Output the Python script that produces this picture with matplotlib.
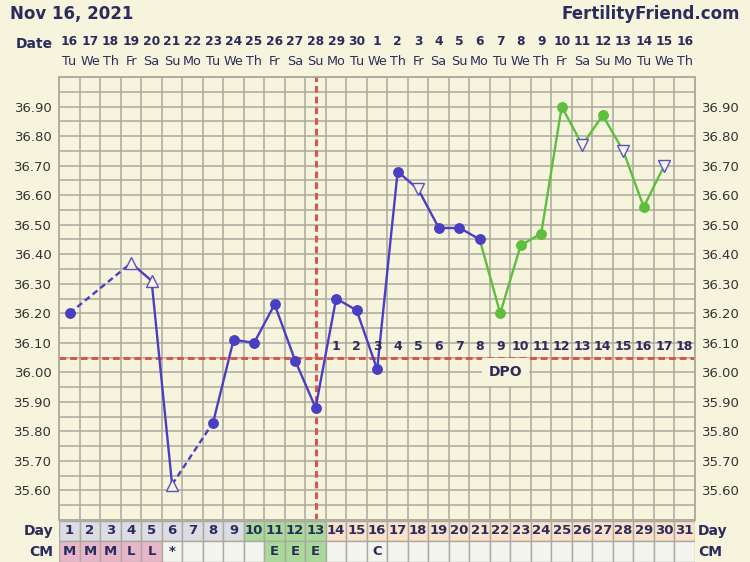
import matplotlib.pyplot as plt
import numpy as np

# chart data
cycle_days = list(range(1, 32))
dates = list(range(16, 31)) + list(range(1, 17))
weekdays = ['Tu', 'We', 'Th', 'Fr', 'Sa', 'Su', 'Mo'] * 4 + ['Tu', 'We', 'Th']

temp_days = [1, 4, 5, 6, 8, 9, 10, 11, 12, 13, 14, 15, 16, 17, 18, 19, 20,
             21, 22, 23, 24, 25, 26, 27, 28, 29, 30]
temps = [36.20, 36.37, 36.31, 35.62, 35.83, 36.11, 36.10, 36.23, 36.04, 35.88,
         36.25, 36.21, 36.01, 36.68, 36.62, 36.49, 36.49, 36.45, 36.20, 36.43,
         36.47, 36.90, 36.77, 36.87, 36.75, 36.56, 36.70]
# o = normal reading, ^ / v = discarded reading (open triangle)
temp_kind = ['o', '^', '^', '^', 'o', 'o', 'o', 'o', 'o', 'o', 'o', 'o', 'o',
             'o', 'v', 'o', 'o', 'o', 'o', 'o', 'o', 'o', 'v', 'o', 'v', 'o', 'v']

coverline = 36.05
ovulation_day = 13
green_from = 21
dpo = list(range(1, 19))

phase = ['pre'] * 9 + ['fertile'] * 4 + ['post'] * 18
cm = ['M', 'M', 'M', 'L', 'L', '*', '', '', '', '', 'E', 'E', 'E', '', '', 'C'] + [''] * 15

# colours
BG = '#f7f4dd'
GRID = '#aca99d'
NAVY = '#2b2c5c'
BLUE = '#4a3fc3'
GREEN = '#5dbf3d'
RED = '#d45a4e'
TRI = '#5a50c6'
phase_col = {'pre': '#dcdce4', 'fertile': '#a9d99b', 'post': '#fbe2cc'}
cm_col = {'M': '#e8b6c9', 'L': '#e8b6c9', 'E': '#a9d99b'}

W_PX, H_PX = 750, 562
left, right, top, bottom = 59.3, 695, 77, 520

fig = plt.figure(figsize=(7.5, 5.62), dpi=100, facecolor=BG)
ax = fig.add_axes([left / W_PX, (H_PX - bottom) / H_PX,
                   (right - left) / W_PX, (bottom - top) / H_PX], facecolor=BG)

ax.set_xlim(0.5, 31.5)
ax.set_ylim(35.5, 37.0)
ax.set_xticks(np.arange(0.5, 32, 1))
ax.set_yticks(np.arange(35.6, 36.95, 0.1))
ax.set_yticklabels([f'{v:.2f}' for v in np.arange(35.6, 36.95, 0.1)])
ax.set_yticks(np.arange(35.5, 37.01, 0.05), minor=True)
ax.grid(True, which='both', color=GRID, lw=1.1, zorder=1)
ax.set_axisbelow(True)
ax.tick_params(axis='x', length=0, labelbottom=False)
ax.tick_params(axis='y', which='both', length=0, labelleft=True, labelright=True,
               labelsize=9.5, labelcolor='#333333', pad=5)
for s in ax.spines.values():
    s.set_color(GRID)
    s.set_linewidth(1.3)

# coverline and ovulation line
ax.axhline(coverline, color=RED, lw=2.2, dashes=(2.2, 1.3), zorder=2)
ax.axvline(ovulation_day, color=RED, lw=2.2, dashes=(2.2, 1.3), zorder=2)

# temperature line
for i in range(len(temp_days) - 1):
    d0, d1 = temp_days[i], temp_days[i + 1]
    col = GREEN if d0 >= green_from else BLUE
    if d1 - d0 > 1:
        ax.plot([d0, d1], [temps[i], temps[i + 1]], color=col, lw=1.7,
                dashes=(2.6, 1.6), zorder=3)
    else:
        ax.plot([d0, d1], [temps[i], temps[i + 1]], color=col, lw=1.7, zorder=3)

for d, t, k in zip(temp_days, temps, temp_kind):
    if k == 'o':
        col = GREEN if d > green_from else BLUE
        ax.plot(d, t, 'o', color=col, ms=6.8, zorder=4)
    else:
        ax.plot(d, t, k, mfc=BG, mec=TRI, mew=1.0, ms=9, zorder=4)

# days past ovulation
for i, n in enumerate(dpo):
    ax.text(ovulation_day + 1 + i, 36.088, str(n), ha='center', va='center',
            fontsize=9, fontweight='bold', color=NAVY, zorder=5)
ax.text(22.25, 36.0, 'DPO', ha='center', va='center', fontsize=10,
        fontweight='bold', color=NAVY, zorder=5,
        bbox=dict(facecolor=BG, edgecolor='none', boxstyle='square,pad=0.5'))

# header
fig.text(10 / W_PX, 1 - 14 / H_PX, 'Nov 16, 2021', ha='left', va='center',
         fontsize=12, fontweight='bold', color=NAVY)
fig.text(740 / W_PX, 1 - 14 / H_PX, 'FertilityFriend.com', ha='right',
         va='center', fontsize=12, fontweight='bold', color=NAVY)
fig.text(53 / W_PX, 1 - 44 / H_PX, 'Date', ha='right', va='center',
         fontsize=10, fontweight='bold', color=NAVY)
tr = ax.get_xaxis_transform()
for d, dt, wd in zip(cycle_days, dates, weekdays):
    ax.text(d, (bottom - 41.5) / (bottom - top), str(dt), transform=tr,
            ha='center', va='center', fontsize=8.8, fontweight='bold', color=NAVY)
    ax.text(d, (bottom - 61) / (bottom - top), wd, transform=tr,
            ha='center', va='center', fontsize=9.2, color=NAVY)

# Day / CM table
tab = fig.add_axes([left / W_PX, 0, (right - left) / W_PX, 41.5 / H_PX])
tab.set_xlim(0.5, 31.5)
tab.set_ylim(0, 2)
tab.axis('off')
tab.bar(cycle_days, 1, bottom=1, width=1, color=[phase_col[p] for p in phase],
        edgecolor=GRID, lw=1)
tab.bar(cycle_days, 1, bottom=0, width=1,
        color=[cm_col.get(c, '#f5f5ef') for c in cm], edgecolor=GRID, lw=1)
for d, c in zip(cycle_days, cm):
    tab.text(d, 1.5, str(d), ha='center', va='center', fontsize=9.5,
             fontweight='bold', color=NAVY)
    if c:
        tab.text(d, 0.5, c, ha='center', va='center', fontsize=9.5,
                 fontweight='bold', color=NAVY)
for y, lab in [(1.5, 'Day'), (0.5, 'CM')]:
    tab.text(0.19, y, lab, ha='right', va='center', fontsize=10,
             fontweight='bold', color=NAVY)
    tab.text(31.65, y, lab, ha='left', va='center', fontsize=10,
             fontweight='bold', color=NAVY)

fig.savefig('out.png', dpi=100, facecolor=BG)
